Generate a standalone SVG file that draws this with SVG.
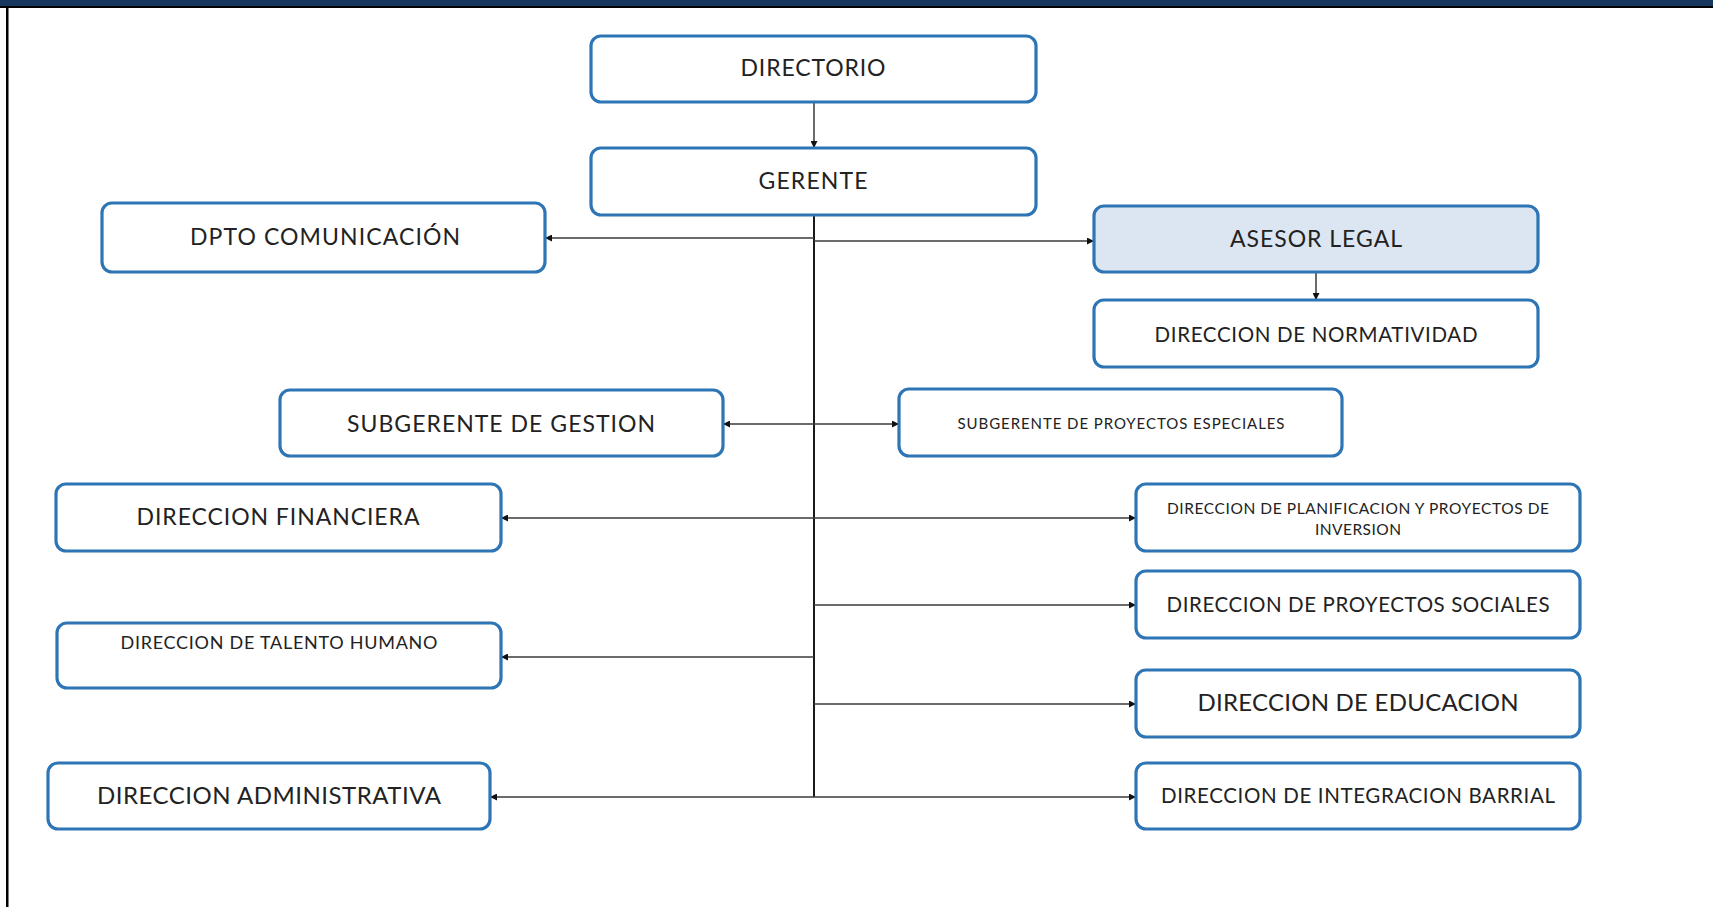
<svg xmlns="http://www.w3.org/2000/svg" width="1713" height="907" viewBox="0 0 1713 907">
<style>
.box{fill:#ffffff;stroke:#2e75b6;stroke-width:3.2}
.hl{fill:#dce6f2}
.t{font-family:Lato,"Open Sans","Liberation Sans",sans-serif;fill:#222222;text-anchor:middle}
.c{fill:none;stroke:#3a3a3a;stroke-width:1.5}
.trunk{stroke:#1a1a1a;stroke-width:2}
</style>
<defs>
<marker id="ah" viewBox="0 0 10 10" refX="10" refY="5" markerWidth="8" markerHeight="7" markerUnits="userSpaceOnUse" orient="auto">
<path d="M0,0 L10,5 L0,10 z" fill="#111"/>
</marker>
</defs>
<rect x="0" y="0" width="1713" height="907" fill="#ffffff"/>
<rect x="0" y="0" width="1713" height="6" fill="#17375e"/>
<rect x="0" y="6" width="1713" height="2" fill="#000"/>
<rect x="6" y="6" width="2.5" height="901" fill="#000"/>

<g id="connectors">
<line class="c" x1="814" y1="102" x2="814" y2="148" marker-end="url(#ah)"/>
<line class="c trunk" x1="814" y1="215" x2="814" y2="797"/>
<line class="c" x1="814" y1="238" x2="545" y2="238" marker-end="url(#ah)"/>
<line class="c" x1="814" y1="241" x2="1094" y2="241" marker-end="url(#ah)"/>
<line class="c" x1="1316" y1="272" x2="1316" y2="300" marker-end="url(#ah)"/>
<line class="c" x1="814" y1="424" x2="723" y2="424" marker-end="url(#ah)"/>
<line class="c" x1="814" y1="424" x2="899" y2="424" marker-end="url(#ah)"/>
<line class="c" x1="814" y1="518" x2="501" y2="518" marker-end="url(#ah)"/>
<line class="c" x1="814" y1="518" x2="1136" y2="518" marker-end="url(#ah)"/>
<line class="c" x1="814" y1="605" x2="1136" y2="605" marker-end="url(#ah)"/>
<line class="c" x1="814" y1="657" x2="501" y2="657" marker-end="url(#ah)"/>
<line class="c" x1="814" y1="704" x2="1136" y2="704" marker-end="url(#ah)"/>
<line class="c" x1="814" y1="797" x2="490" y2="797" marker-end="url(#ah)"/>
<line class="c" x1="814" y1="797" x2="1136" y2="797" marker-end="url(#ah)"/>
</g>

<g id="directorio"><rect class="box" x="591" y="36" width="445" height="66" rx="10"/><text class="t" x="813" y="76" font-size="23" textLength="145">DIRECTORIO</text></g>
<g id="gerente"><rect class="box" x="591" y="148" width="445" height="67" rx="10"/><text class="t" x="813" y="189" font-size="23" textLength="109">GERENTE</text></g>
<g id="dpto-comunicacion"><rect class="box" x="102" y="203" width="443" height="69" rx="10"/><text class="t" x="325" y="245" font-size="23" textLength="270">DPTO COMUNICACIÓN</text></g>
<g id="asesor-legal"><rect class="box hl" x="1094" y="206" width="444" height="66" rx="10"/><text class="t" x="1316" y="247" font-size="23" textLength="172">ASESOR LEGAL</text></g>
<g id="direccion-normatividad"><rect class="box" x="1094" y="300" width="444" height="67" rx="10"/><text class="t" x="1316" y="342" font-size="20.5" textLength="323">DIRECCION DE NORMATIVIDAD</text></g>
<g id="subgerente-gestion"><rect class="box" x="280" y="390" width="443" height="66" rx="10"/><text class="t" x="501" y="432" font-size="23" textLength="308">SUBGERENTE DE GESTION</text></g>
<g id="subgerente-proyectos"><rect class="box" x="899" y="389" width="443" height="67" rx="10"/><text class="t" x="1121" y="429" font-size="15" textLength="327">SUBGERENTE DE PROYECTOS ESPECIALES</text></g>
<g id="direccion-financiera"><rect class="box" x="56" y="484" width="445" height="67" rx="10"/><text class="t" x="278" y="525" font-size="23" textLength="283">DIRECCION FINANCIERA</text></g>
<g id="direccion-planificacion"><rect class="box" x="1136" y="484" width="444" height="67" rx="10"/><text class="t" x="1358" y="514" font-size="15.5" textLength="382">DIRECCION DE PLANIFICACION Y PROYECTOS DE</text><text class="t" x="1358" y="535" font-size="15.5" textLength="86">INVERSION</text></g>
<g id="direccion-proyectos-sociales"><rect class="box" x="1136" y="571" width="444" height="67" rx="10"/><text class="t" x="1358" y="612" font-size="20.5" textLength="383">DIRECCION DE PROYECTOS SOCIALES</text></g>
<g id="direccion-talento"><rect class="box" x="57" y="623" width="444" height="65" rx="10"/><text class="t" x="279" y="649" font-size="18" textLength="317">DIRECCION DE TALENTO HUMANO</text></g>
<g id="direccion-educacion"><rect class="box" x="1136" y="670" width="444" height="67" rx="10"/><text class="t" x="1358" y="711" font-size="24" textLength="321">DIRECCION DE EDUCACION</text></g>
<g id="direccion-administrativa"><rect class="box" x="48" y="763" width="442" height="66" rx="10"/><text class="t" x="269" y="804" font-size="24" textLength="344">DIRECCION ADMINISTRATIVA</text></g>
<g id="direccion-integracion"><rect class="box" x="1136" y="763" width="444" height="66" rx="10"/><text class="t" x="1358" y="803" font-size="20.5" textLength="394">DIRECCION DE INTEGRACION BARRIAL</text></g>
</svg>
